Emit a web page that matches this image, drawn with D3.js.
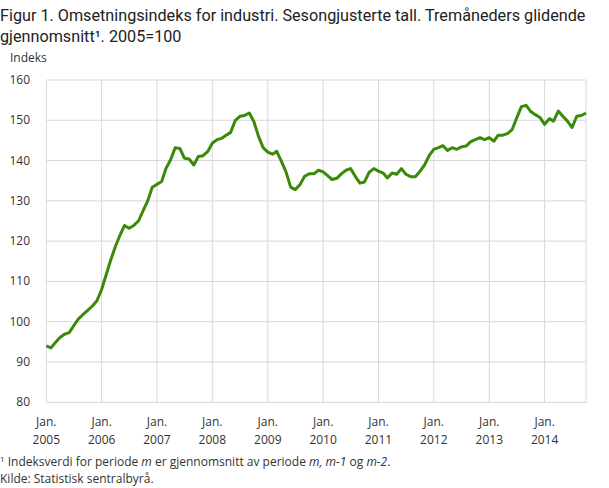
<!DOCTYPE html>
<html>
<head>
<meta charset="utf-8">
<script src="https://cdn.jsdelivr.net/npm/d3@7"></script>
<style>
body { margin: 0; background: #fff; }
text { font-family: "Open Sans", sans-serif; fill: #333; }
</style>
</head>
<body>
<div id="chart"></div>
<script>
// monthly index, 3-month moving average, Jan 2005 - Oct 2014
var v2005 = [94.0, 93.5, 94.8, 96.1, 96.9, 97.3, 99.0, 100.7, 101.8, 102.8, 103.9, 105.2];
var v2006 = [108.0, 111.8, 115.2, 118.6, 121.4, 123.9, 123.2, 123.9, 125.0, 127.5, 130.0, 133.4];
var v2007 = [134.1, 134.8, 138.0, 140.2, 143.2, 143.0, 140.6, 140.4, 138.9, 141.0, 141.2, 142.2];
var v2008 = [144.3, 145.2, 145.5, 146.3, 147.0, 150.0, 151.0, 151.2, 151.8, 149.7, 146.0, 143.2];
var v2009 = [142.1, 141.6, 142.3, 139.8, 137.2, 133.4, 132.8, 134.0, 136.1, 136.7, 136.7, 137.6];
var v2010 = [137.2, 136.2, 135.3, 135.6, 136.7, 137.6, 138.0, 136.1, 134.4, 134.7, 137.1, 138.0];
var v2011 = [137.4, 136.9, 135.7, 136.9, 136.6, 138.0, 136.6, 136.0, 136.0, 137.3, 138.9, 141.2];
var v2012 = [142.8, 143.2, 143.7, 142.5, 143.2, 142.8, 143.4, 143.6, 144.7, 145.2, 145.7, 145.2];
var v2013 = [145.7, 144.8, 146.3, 146.3, 146.7, 147.7, 150.6, 153.4, 153.7, 152.2, 151.4, 150.7];
var v2014 = [149.0, 150.4, 149.8, 152.3, 151.0, 149.8, 148.2, 151.0, 151.2, 151.8];

var years = [2005, 2006, 2007, 2008, 2009, 2010, 2011, 2012, 2013, 2014];
var yTicks = [80, 90, 100, 110, 120, 130, 140, 150, 160];

var W = 609, H = 488;
var plotLeft = 46.3, plotRight = 586, plotTop = 80, plotBottom = 402.3;

var series = [];
[v2005, v2006, v2007, v2008, v2009, v2010, v2011, v2012, v2013, v2014].forEach(function (arr, i) {
    arr.forEach(function (v, m) {
        series.push({ date: new Date(years[i], m, 1), value: v });
    });
});

var svg = d3.select("#chart").append("svg")
    .attr("width", W)
    .attr("height", H);

var x = d3.scaleTime()
    .domain([series[0].date, series[series.length - 1].date])
    .range([plotLeft, plotRight]);

var y = d3.scaleLinear()
    .domain([80, 160])
    .range([plotBottom, plotTop]);

// title
var title = svg.append("text")
    .style("font-family", "Roboto, sans-serif")
    .style("font-size", "16.2px")
    .style("fill", "#222");
title.append("tspan").attr("x", 0).attr("y", 21)
    .text("Figur 1. Omsetningsindeks for industri. Sesongjusterte tall. Tremåneders glidende");
title.append("tspan").attr("x", 0).attr("y", 42)
    .text("gjennomsnitt¹. 2005=100");

svg.append("text")
    .attr("x", 10)
    .attr("y", 62)
    .style("font-size", "12px")
    .text("Indeks");

// grid
svg.append("g").selectAll("line")
    .data(yTicks)
    .enter().append("line")
    .attr("x1", plotLeft).attr("x2", plotRight)
    .attr("y1", function (d) { return y(d); })
    .attr("y2", function (d) { return y(d); })
    .attr("stroke", "#d8d8d8");

var yearDates = years.map(function (yr) { return new Date(yr, 0, 1); });

svg.append("g").selectAll("line")
    .data(yearDates)
    .enter().append("line")
    .attr("x1", function (d) { return x(d); })
    .attr("x2", function (d) { return x(d); })
    .attr("y1", plotTop).attr("y2", plotBottom)
    .attr("stroke", "#d8d8d8");

svg.append("line")
    .attr("x1", plotRight).attr("x2", plotRight)
    .attr("y1", plotTop).attr("y2", plotBottom)
    .attr("stroke", "#d8d8d8");

// y labels
svg.append("g").selectAll("text")
    .data(yTicks)
    .enter().append("text")
    .attr("x", 30)
    .attr("y", function (d) { return y(d) + 4; })
    .attr("text-anchor", "end")
    .style("font-size", "12px")
    .text(function (d) { return d; });

// x labels
var xl = svg.append("g").selectAll("text")
    .data(yearDates)
    .enter().append("text")
    .attr("text-anchor", "middle")
    .style("font-size", "12px");
xl.append("tspan")
    .attr("x", function (d) { return x(d); })
    .attr("y", 426)
    .text("Jan.");
xl.append("tspan")
    .attr("x", function (d) { return x(d); })
    .attr("y", 444)
    .text(function (d) { return d.getFullYear(); });

// line
var line = d3.line()
    .x(function (d) { return x(d.date); })
    .y(function (d) { return y(d.value); });

svg.append("path")
    .datum(series)
    .attr("d", line)
    .attr("fill", "none")
    .attr("stroke", "#3a8a0a")
    .attr("stroke-width", 3)
    .attr("stroke-linejoin", "round");

// footnotes
var fn = svg.append("text")
    .attr("x", 0)
    .attr("y", 466)
    .style("font-size", "12px");
fn.append("tspan").attr("dy", -4).style("font-size", "8px").text("1");
fn.append("tspan").attr("dy", 4).text(" Indeksverdi for periode ");
fn.append("tspan").style("font-style", "italic").text("m");
fn.append("tspan").text(" er gjennomsnitt av periode ");
fn.append("tspan").style("font-style", "italic").text("m, m-1");
fn.append("tspan").text(" og ");
fn.append("tspan").style("font-style", "italic").text("m-2");
fn.append("tspan").text(".");

svg.append("text")
    .attr("x", 0)
    .attr("y", 483)
    .style("font-size", "12px")
    .text("Kilde: Statistisk sentralbyrå.");
</script>
</body>
</html>
